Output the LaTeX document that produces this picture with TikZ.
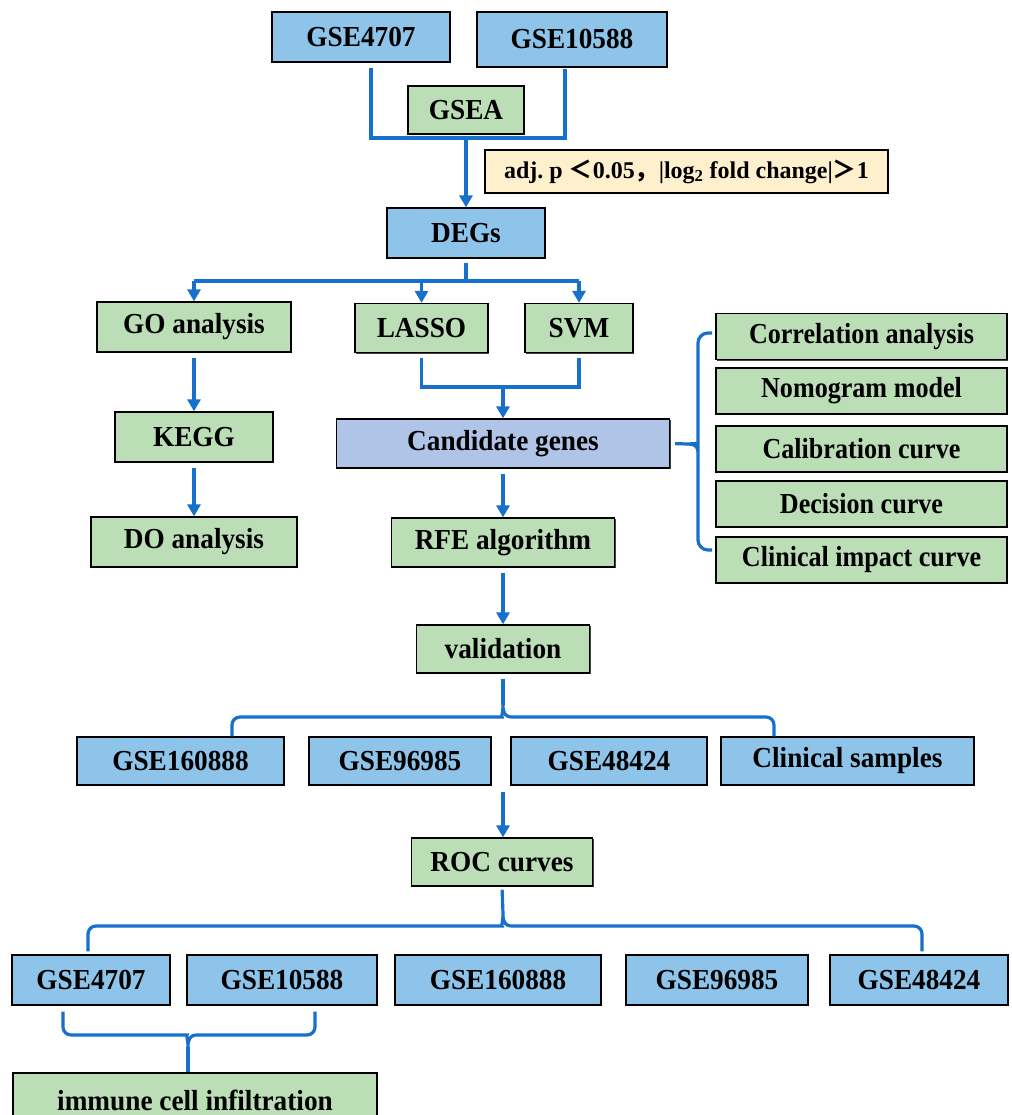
\documentclass[tikz,border=0pt]{standalone}
\usepackage{fontspec}
\setmainfont{Liberation Serif}
\newfontfamily\boxfont{Liberation Serif}[FakeStretch=0.94]
\newfontfamily\sidefont{Liberation Serif}[FakeStretch=0.9]
\newfontfamily\cjkfont{Noto Sans CJK SC}
\usetikzlibrary{arrows.meta, calc, shadows}
\definecolor{linkc}{RGB}{22,112,204}
\definecolor{bluec}{RGB}{142,196,234}
\definecolor{greenc}{RGB}{187,222,182}
\definecolor{candc}{RGB}{176,196,232}
\definecolor{condc}{RGB}{255,240,205}

\begin{document}
\begin{tikzpicture}[x=1pt, y=-1pt,
    box/.style={draw=black, line width=1.3pt, inner sep=0pt,
      font=\boxfont\fontsize{29}{32}\selectfont\bfseries,
      drop shadow={shadow xshift=1.3pt, shadow yshift=-1.3pt, fill=black!75, opacity=1}},
    wh/.style 2 args={minimum width=#1pt, minimum height=#2pt},
    blu/.style={box, fill=bluec},
    grn/.style={box, fill=greenc},
    link/.style={draw=linkc, line width=3.2pt},
    arr/.style={link, -{Triangle[length=12pt, width=13pt]}, shorten <=5pt}]
  \useasboundingbox (0,0) rectangle (1011,1115);
  \fill[white] (0,0) rectangle (1011,1115);
  \clip (0,0) rectangle (1011,1115);

  \node[blu, wh={178}{50}] (gseA) at (361,37) {GSE4707};
  \node[blu, wh={190}{55}] (gseB) at (572,39.5) {GSE10588};
  \node[grn, wh={116}{48}] (gsea) at (466,110) {GSEA};
  \node[box, fill=condc, wh={403}{43}, font=\fontsize{24}{26}\selectfont\bfseries] (cond)
    at (686.5,171.5) {adj.\ p {\cjkfont ＜}0.05{\cjkfont ，}|log\textsubscript{2} fold change|{\cjkfont ＞}1};
  \node[blu, wh={158}{50}] (degs) at (466,233) {DEGs};
  \node[grn, wh={194}{50}] (go) at (194,327) {GO analysis};
  \node[grn, wh={133}{49}] (lasso) at (421.5,328) {LASSO};
  \node[grn, wh={108}{49}] (svm) at (579,328) {SVM};
  \node[grn, wh={158}{50}] (kegg) at (194,437) {KEGG};
  \node[grn, wh={206}{50}] (doa) at (194,542) {DO analysis};
  \node[box, fill=candc, wh={333}{49}] (cand) at (503,443.5) {Candidate genes};
  \node[grn, wh={223}{49}] (rfe) at (503,542.5) {RFE algorithm};
  \node[grn, wh={173}{48}] (valid) at (503,649) {validation};
  \foreach \t/\y/\n in {Correlation analysis/336.5/corr, Nomogram model/391/nomo,
      Calibration curve/449/calib, Decision curve/504/decis, Clinical impact curve/560/clin}
    \node[grn, wh={291}{46}, font=\sidefont\fontsize{29}{32}\selectfont\bfseries] (\n) at (861.5,\y) {\t};
  \foreach \t/\x/\w/\n in {GSE160888/180.5/207/vA, GSE96985/400/182/vB,
      GSE48424/609/196/vC, Clinical samples/847.5/253/vD}
    \node[blu, wh={\w}{48}] (\n) at (\x,761) {\t};
  \node[grn, wh={181}{48}] (roc) at (502,862) {ROC curves};
  \foreach \t/\x/\w/\n in {GSE4707/91/158/rA, GSE10588/282/190/rB, GSE160888/498/206/rC,
      GSE96985/717/182/rD, GSE48424/919/178/rE}
    \node[blu, wh={\w}{50}] (\n) at (\x,980) {\t};
  \node[grn, wh={364}{54}] (immune) at (195,1100) {immune cell infiltration};

  \coordinate (topL) at (371,138);
  \coordinate (topR) at (565,138);
  \coordinate (topj) at (466,138);
  \draw[link, shorten <=5pt, shorten >=1pt] (topL |- gseA.south) -- (topL) -- (topR) -- (topR |- gseB.south);
  \draw[arr, shorten <=0pt] (topj) -- (topj |- degs.north);

  \coordinate (split) at (466,281);
  \draw[link, shorten <=4pt] (degs.south) -- (split);
  \draw[link] (go.north |- split) -- (svm.north |- split);
  \foreach \n in {go, lasso, svm}
    \draw[arr, shorten <=0pt] (\n.north |- split) -- (\n.north);

  \coordinate (lsj) at (503,387);
  \draw[link, shorten <=5pt, shorten >=5pt] (lasso.south) |- (lsj) -| (svm.south);
  \draw[arr, shorten <=0pt] (lsj) -- (lsj |- cand.north);

  \draw[arr] (go) -- (kegg);
  \draw[arr] (kegg) -- (doa);
  \draw[arr] (cand) -- (rfe);
  \draw[arr] (rfe) -- (valid);

  \coordinate (rbrace) at (688,444);
  \draw[link, shorten <=5pt] (cand.east) -- (rbrace);
  \draw[link] (712,333) [rounded corners=10pt] -- (698,333) -- (698,436) [sharp corners]
    .. controls (698,442) and (694,444) .. (rbrace)
    .. controls (694,444) and (698,446) .. (698,452) [rounded corners=10pt]
    -- (698,550) -- (712,550);

  \coordinate (vcusp) at (503,705);
  \coordinate (vL) at (232,717);
  \coordinate (vR) at (774,717);
  \draw[link, shorten <=5pt] (valid.south) -- (vcusp);
  \draw[link] (vL |- vA.north) [rounded corners=8pt] -- (vL) -- (494,717) [sharp corners]
    .. controls (501,717) and (503,713) .. (vcusp)
    .. controls (503,713) and (505,717) .. (512,717) [rounded corners=8pt]
    -- (vR) -- (vR |- vD.north);

  \coordinate (vout) at (503,792);
  \draw[arr, shorten <=0pt] (vout) -- (vout |- roc.north);

  \coordinate (rcusp) at (503,914);
  \coordinate (rL) at (88,926);
  \coordinate (rR) at (922,926);
  \draw[link, shorten <=3pt] (roc.south) -- (rcusp);
  \draw[link, shorten <=3pt, shorten >=3pt] (rL |- rA.north) [rounded corners=8pt] -- (rL) -- (494,926) [sharp corners]
    .. controls (501,926) and (503,922) .. (rcusp)
    .. controls (503,922) and (505,926) .. (512,926) [rounded corners=8pt]
    -- (rR) -- (rR |- rE.north);

  \coordinate (bcusp) at (188,1047);
  \coordinate (bL) at (63,1035);
  \coordinate (bR) at (315,1035);
  \draw[link, shorten <=6pt, shorten >=6pt] (bL |- rA.south) [rounded corners=8pt] -- (bL) -- (179,1035) [sharp corners]
    .. controls (186,1035) and (188,1039) .. (bcusp)
    .. controls (188,1039) and (190,1035) .. (197,1035) [rounded corners=8pt]
    -- (bR) -- (bR |- rB.south);
  \draw[link] (bcusp) -- (bcusp |- immune.north);
\end{tikzpicture}
\end{document}
